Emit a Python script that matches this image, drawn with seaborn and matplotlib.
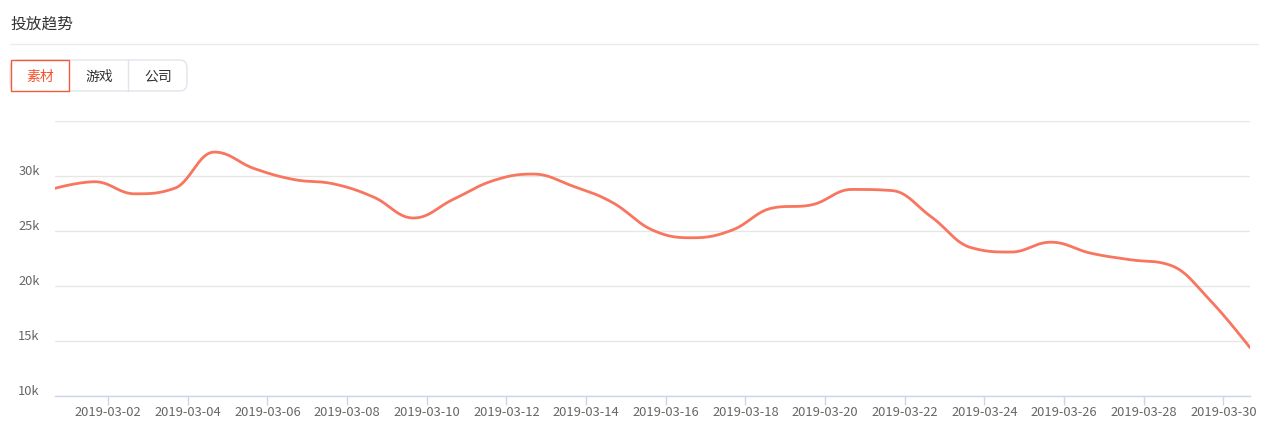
import numpy as np
import pandas as pd
import matplotlib
matplotlib.use("Agg")
import matplotlib.pyplot as plt
import matplotlib.dates as mdates
from matplotlib.patches import Rectangle, FancyBboxPatch
from matplotlib.lines import Line2D
from matplotlib.transforms import ScaledTranslation
import seaborn as sns

# ---------------- data ----------------
dates = pd.date_range("2019-03-01", "2019-03-31", freq="D")
values = [28900, 29500, 28400, 28900, 32200, 30700, 29700, 29300, 28100, 26200,
          27900, 29600, 30200, 29100, 27600, 25100, 24400, 25100, 27100, 27400,
          28800, 28700, 26300, 23500, 23100, 24000, 23000, 22400, 21900, 18700,
          14400]
tick_labels = ["2019-03-02", "2019-03-04", "2019-03-06", "2019-03-08", "2019-03-10",
               "2019-03-12", "2019-03-14", "2019-03-16", "2019-03-18", "2019-03-20",
               "2019-03-22", "2019-03-24", "2019-03-26", "2019-03-28", "2019-03-30"]
y_ticks = [10000, 15000, 20000, 25000, 30000, 35000]
y_labels = ["10k", "15k", "20k", "25k", "30k", ""]
title = "投放趋势"
buttons = ["素材", "游戏", "公司"]

# ---------------- style ----------------
sns.set_theme(style="white")
plt.rcParams["font.family"] = ["Noto Sans CJK SC", "DejaVu Sans"]

W, H = 1268, 430
fig = plt.figure(figsize=(W / 100, H / 100), dpi=100)
fig.patch.set_facecolor("white")


def fx(px):
    return px / W


def fy(py):
    return 1 - py / H


ax_l, ax_r, ax_t, ax_b = 55, 1250, 121.3, 396
ax = fig.add_axes([fx(ax_l), fy(ax_b), fx(ax_r - ax_l), (ax_b - ax_t) / H])

# Highcharts-like spline through the data points
xnum = mdates.date2num(dates.to_pydatetime())
yv = np.asarray(values, dtype=float)
n = len(xnum)
lc = [None] * n
rc = [None] * n
for i in range(1, n - 1):
    px, py = xnum[i], yv[i]
    lx, ly = xnum[i - 1], yv[i - 1]
    nx, ny = xnum[i + 1], yv[i + 1]
    lcx = (1.5 * px + lx) / 2.5
    lcy = (1.5 * py + ly) / 2.5
    rcx = (1.5 * px + nx) / 2.5
    rcy = (1.5 * py + ny) / 2.5
    if rcx != lcx:
        corr = ((rcy - lcy) * (rcx - px)) / (rcx - lcx) + py - rcy
        lcy += corr
        rcy += corr
    if lcy > ly and lcy > py:
        lcy = max(ly, py)
        rcy = 2 * py - lcy
    elif lcy < ly and lcy < py:
        lcy = min(ly, py)
        rcy = 2 * py - lcy
    if rcy > ny and rcy > py:
        rcy = max(ny, py)
        lcy = 2 * py - rcy
    elif rcy < ny and rcy < py:
        rcy = min(ny, py)
        lcy = 2 * py - rcy
    lc[i] = (lcx, lcy)
    rc[i] = (rcx, rcy)

t = np.linspace(0, 1, 25)
cx, cy = [], []
for i in range(1, n):
    p0 = np.array([xnum[i - 1], yv[i - 1]])
    p3 = np.array([xnum[i], yv[i]])
    p1 = np.array(rc[i - 1]) if rc[i - 1] is not None else p0
    p2 = np.array(lc[i]) if lc[i] is not None else p3
    b = ((1 - t) ** 3)[:, None] * p0 + (3 * (1 - t) ** 2 * t)[:, None] * p1 + \
        (3 * (1 - t) * t ** 2)[:, None] * p2 + (t ** 3)[:, None] * p3
    if i > 1:
        b = b[1:]
    cx.extend(b[:, 0])
    cy.extend(b[:, 1])

sns.lineplot(x=cx, y=cy, sort=False, estimator=None, color="#f8755f",
             linewidth=2, ax=ax)

ax.set_xlim(xnum[0], xnum[-1])
ax.set_ylim(10000, 35000)

# grid
ax.set_yticks(y_ticks)
ax.set_yticklabels(y_labels)
ax.yaxis.grid(True, color="#e6e6e6", linewidth=1)
ax.xaxis.grid(False)
ax.set_axisbelow(True)
for s in ["top", "left", "right"]:
    ax.spines[s].set_visible(False)
ax.spines["bottom"].set_color("#ccd6eb")
ax.spines["bottom"].set_linewidth(1)

# x ticks (UTC midnight, shown 8h after local-midnight data points)
tick_dates = pd.to_datetime(tick_labels) + pd.Timedelta(hours=8)
ax.set_xticks(mdates.date2num(tick_dates.to_pydatetime()))
ax.set_xticklabels(tick_labels)
ax.tick_params(axis="x", length=6.5, width=1, color="#ccd6eb", pad=1.0,
               labelsize=9.3, labelcolor="#666666", direction="out", bottom=True)
ax.tick_params(axis="y", length=0, pad=11, labelsize=9.3, labelcolor="#666666")
off = ScaledTranslation(0, 0.06, fig.dpi_scale_trans)
for lab in ax.get_yticklabels():
    lab.set_transform(lab.get_transform() + off)
ax.set_xlabel("")
ax.set_ylabel("")

# header
fig.text(fx(10), fy(23.5), title, fontsize=11.3, color="#333333", va="center", ha="left")
fig.add_artist(Line2D([fx(10), fx(1258)], [fy(44), fy(44)], color="#e8ebef",
                      linewidth=1, transform=fig.transFigure))

# button group
grp = FancyBboxPatch((fx(10), fy(91)), fx(177), (91 - 60) / H,
                     boxstyle="round,pad=0,rounding_size=0.006",
                     transform=fig.transFigure, facecolor="white",
                     edgecolor="#e1e5eb", linewidth=1, mutation_aspect=W / H)
fig.add_artist(grp)
for xd in [128.3]:
    fig.add_artist(Line2D([fx(xd), fx(xd)], [fy(60), fy(91)], color="#e1e5eb",
                          linewidth=1, transform=fig.transFigure))
fig.add_artist(Rectangle((fx(10.5), fy(91)), fx(58.8), (91 - 60) / H,
                         transform=fig.transFigure, facecolor="white",
                         edgecolor="#f25a3e", linewidth=1))
centers = [40, 99, 158]
colors = ["#f5532d", "#333333", "#333333"]
for lbl, cxp, col in zip(buttons, centers, colors):
    fig.text(fx(cxp), fy(76.5), lbl, fontsize=10, color=col, ha="center", va="center")

fig.savefig("out.png", dpi=100, facecolor="white")
